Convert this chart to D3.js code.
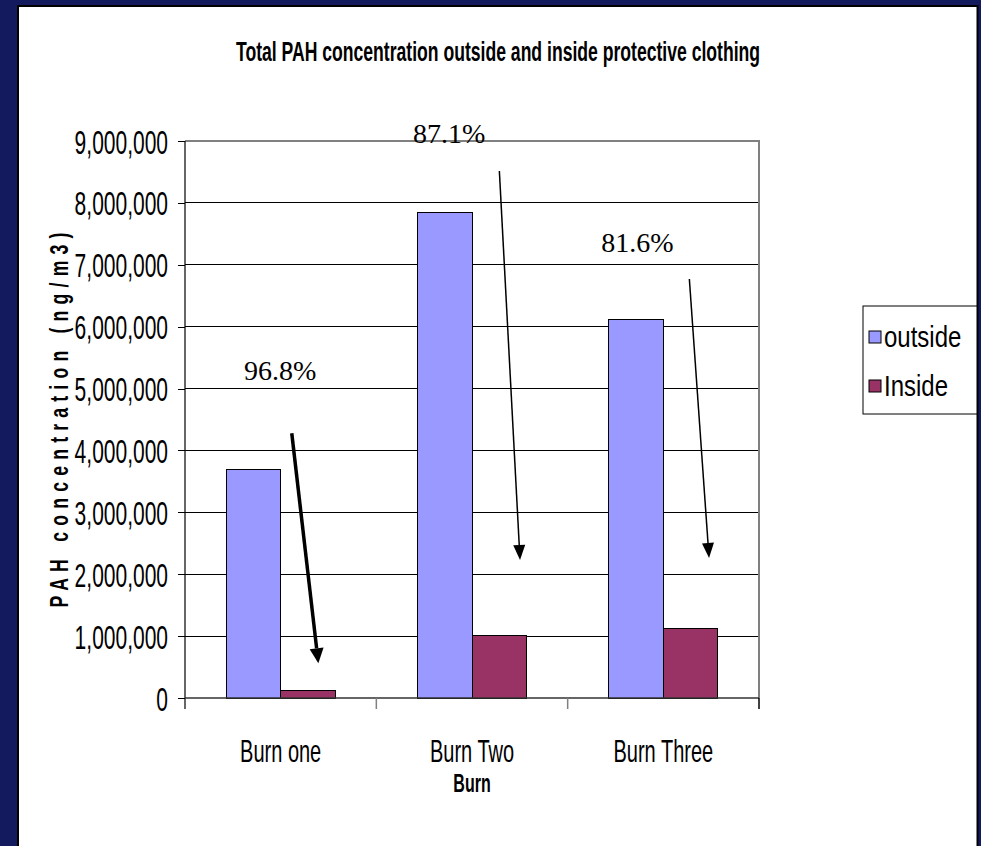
<!DOCTYPE html>
<html>
<head>
<meta charset="utf-8">
<script src="https://cdn.jsdelivr.net/npm/d3@7"></script>
<style>
  html, body { margin: 0; padding: 0; background: #131b5e; }
  svg { display: block; }
  text { font-family: "Liberation Sans", Arial, sans-serif; }
  text.callout { font-family: "Liberation Serif", "Times New Roman", serif; }
</style>
</head>
<body>
<svg id="chart" width="981" height="846"></svg>
<script>
// Chart data
const categories = ["Burn one", "Burn Two", "Burn Three"];
const seriesNames = ["outside", "Inside"];
const outsideValues = [3700000, 7840000, 6110000];
const insideValues = [118400, 1010000, 1124000];
const yTickValues = [0, 1000000, 2000000, 3000000, 4000000, 5000000, 6000000, 7000000, 8000000, 9000000];
const titleText = "Total PAH concentration outside and inside protective clothing";
const yTitleText = "PAH concentration (ng/m3)";
const xTitleText = "Burn";

// Reduction call-outs: arrow ends and label anchor given as
// (fraction across the category band, concentration value)
const callouts = [
  { label: [0.497, 5140000], from: [0.558, 4277000], to: [0.697, 561000], heavy: true },
  { label: [0.380, 8963000], from: [0.643, 8515000], to: [0.751, 2230000], heavy: false },
  { label: [0.365, 7210000], from: [0.636, 6770000], to: [0.739, 2262000], heavy: false }
];

const colors = { outside: "#9999ff", Inside: "#993366" };
const SY = 1.6; // vertical stretch of the chart lettering

const svg = d3.select("#chart");

// Background panel
svg.append("rect").attr("width", 981).attr("height", 846).attr("fill", "#131b5e");
svg.append("rect")
  .attr("x", 18).attr("y", 6).attr("width", 959.5).attr("height", 880)
  .attr("fill", "#fff").attr("stroke", "#000").attr("stroke-width", 2);

const plot = { left: 185, right: 759, top: 141, bottom: 698 };

const x = d3.scaleBand().domain(categories).range([plot.left, plot.right]).padding(0);
const xSub = d3.scaleBand().domain(seriesNames).range([0, x.bandwidth()])
  .paddingInner(0).paddingOuter(0.755);
const y = d3.scaleLinear().domain([0, 9000000]).range([plot.bottom, plot.top]);

// Gridlines
svg.append("g").selectAll("line")
  .data(yTickValues.filter(v => v > 0 && v < 9000000))
  .join("line")
  .attr("x1", plot.left).attr("x2", plot.right)
  .attr("y1", d => y(d)).attr("y2", d => y(d))
  .attr("stroke", "#000").attr("stroke-width", 1)
  .attr("shape-rendering", "crispEdges");

// Plot-area border (top and right)
svg.append("path")
  .attr("d", `M${plot.left},${y(9000000)}H${plot.right}V${plot.bottom}`)
  .attr("fill", "none").attr("stroke", "#808080").attr("stroke-width", 1.5)
  .attr("shape-rendering", "crispEdges");

// Bars
const rows = categories.map((c, i) => ({ cat: c, outside: outsideValues[i], Inside: insideValues[i] }));
svg.append("g").selectAll("g")
  .data(rows)
  .join("g")
  .attr("transform", d => `translate(${x(d.cat)},0)`)
  .selectAll("rect")
  .data(d => seriesNames.map(s => ({ s, v: d[s] })))
  .join("rect")
  .attr("x", d => xSub(d.s))
  .attr("width", xSub.bandwidth())
  .attr("y", d => y(d.v))
  .attr("height", d => y(0) - y(d.v))
  .attr("fill", d => colors[d.s])
  .attr("stroke", "#000").attr("stroke-width", 1)
  .attr("shape-rendering", "crispEdges");

// Y axis
const yAxis = svg.append("g")
  .attr("transform", `translate(${plot.left},0)`)
  .call(d3.axisLeft(y).tickValues(yTickValues).tickSize(7).tickSizeOuter(0).tickFormat(d3.format(",")));
yAxis.select(".domain").remove();
yAxis.selectAll(".tick line").attr("stroke", "#000").attr("shape-rendering", "crispEdges");
yAxis.selectAll(".tick text")
  .attr("x", null).attr("dy", null)
  .attr("transform", `translate(-17,12) scale(1,${SY})`)
  .attr("font-size", 21).attr("fill", "#000").attr("text-anchor", "end");
svg.append("line")
  .attr("x1", plot.left).attr("x2", plot.left)
  .attr("y1", plot.top).attr("y2", plot.bottom + 11)
  .attr("stroke", "#000").attr("stroke-width", 1.2);

// X axis line and category dividers
svg.append("line")
  .attr("x1", plot.left).attr("x2", plot.right)
  .attr("y1", plot.bottom).attr("y2", plot.bottom)
  .attr("stroke", "#333").attr("stroke-width", 1.5);
const dividers = categories.slice(1).map(c => x(c)).concat([x.range()[1]]);
svg.append("g").selectAll("line")
  .data(dividers)
  .join("line")
  .attr("x1", d => d).attr("x2", d => d)
  .attr("y1", plot.bottom).attr("y2", plot.bottom + 11)
  .attr("stroke", (d, i) => i === dividers.length - 1 ? "#000" : "#808080")
  .attr("stroke-width", 1.5);

// Category labels
svg.append("g").selectAll("text")
  .data(categories)
  .join("text")
  .attr("transform", d => `translate(${x(d) + x.bandwidth() / 2},762) scale(1,${SY})`)
  .attr("text-anchor", "middle").attr("font-size", 20).attr("fill", "#000")
  .text(d => d);

// Titles
svg.append("text")
  .attr("transform", `translate(498,61) scale(1,${SY})`)
  .attr("text-anchor", "middle").attr("font-size", 17.5).attr("font-weight", "bold")
  .attr("textLength", 524).attr("lengthAdjust", "spacingAndGlyphs")
  .text(titleText);

svg.append("text")
  .attr("transform", `translate(472,792) scale(1,${SY})`)
  .attr("text-anchor", "middle").attr("font-size", 16).attr("font-weight", "bold")
  .text(xTitleText);

svg.append("text")
  .attr("transform", "translate(68,420) rotate(-90) scale(0.68,1)")
  .attr("text-anchor", "middle").attr("font-size", 26).attr("font-weight", "bold")
  .attr("textLength", 375 / 0.68).attr("lengthAdjust", "spacing")
  .text(yTitleText);

// Legend
const legend = svg.append("g");
legend.append("rect")
  .attr("x", 863).attr("y", 306).attr("width", 114).attr("height", 108)
  .attr("fill", "#fff").attr("stroke", "#000").attr("stroke-width", 1);
const legendItems = legend.selectAll("g.item")
  .data(seriesNames)
  .join("g").attr("class", "item")
  .attr("transform", (d, i) => `translate(869,${331 + i * 49})`);
legendItems.append("rect")
  .attr("width", 12).attr("height", 12)
  .attr("fill", d => colors[d]).attr("stroke", "#000").attr("stroke-width", 1);
legendItems.append("text")
  .attr("transform", `translate(15,16) scale(1,1.2)`)
  .attr("font-size", 24).attr("fill", "#000")
  .text(d => d);

// Reduction call-outs
const px = (cat, p) => [x(cat) + p[0] * x.bandwidth(), y(p[1])];
const pct = d3.format(".1f");
const calloutG = svg.append("g");
callouts.forEach((c, i) => {
  const cat = categories[i];
  const reduction = (1 - insideValues[i] / outsideValues[i]) * 100;
  const [lx, ly] = px(cat, c.label);
  calloutG.append("text")
    .attr("class", "callout")
    .attr("x", lx).attr("y", ly)
    .attr("text-anchor", "middle")
    .attr("font-size", 28).attr("fill", "#000")
    .text(pct(reduction) + "%");

  const [x1, y1] = px(cat, c.from);
  const [x2, y2] = px(cat, c.to);
  const len = Math.hypot(x2 - x1, y2 - y1);
  const ux = (x2 - x1) / len, uy = (y2 - y1) / len;
  const headL = 15, headW = c.heavy ? 14 : 12;
  const bx = x2 - ux * headL, by = y2 - uy * headL;
  calloutG.append("line")
    .attr("x1", x1).attr("y1", y1).attr("x2", bx).attr("y2", by)
    .attr("stroke", "#000").attr("stroke-width", c.heavy ? 3.5 : 1.5);
  calloutG.append("path")
    .attr("d", `M${x2},${y2}L${bx - uy * headW / 2},${by + ux * headW / 2}L${bx + uy * headW / 2},${by - ux * headW / 2}Z`)
    .attr("fill", "#000");
});
</script>
</body>
</html>
